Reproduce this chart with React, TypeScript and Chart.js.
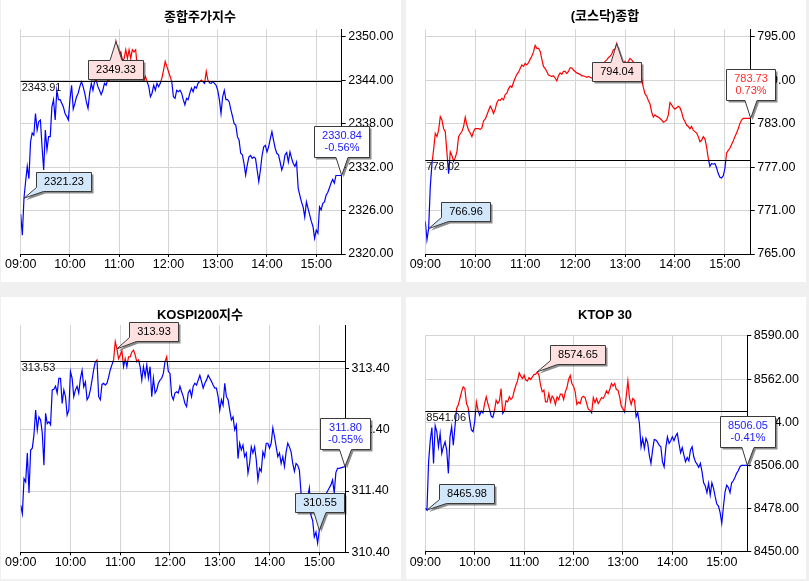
import React, { useEffect, useRef } from "react";
import { Chart, registerables } from "chart.js";

Chart.register(...registerables);

const FONT = "'Liberation Sans', 'Noto Sans CJK KR', Arial, sans-serif";
Chart.defaults.font.family = FONT;

// minutes after 09:00
const TIMES = [
  0, 2, 4, 6, 8, 10, 12, 14, 16, 18,
  20, 22, 24, 26, 28, 30, 32, 34, 36, 38,
  40, 42, 44, 46, 48, 50, 52, 54, 56, 58,
  60, 62, 64, 66, 68, 70, 72, 74, 76, 78,
  80, 82, 84, 86, 88, 90, 92, 94, 96, 98,
  100, 102, 104, 106, 108, 110, 112, 114, 116, 118,
  120, 122, 124, 126, 128, 130, 132, 134, 136, 138,
  140, 142, 144, 146, 148, 150, 152, 154, 156, 158,
  160, 162, 164, 166, 168, 170, 172, 174, 176, 178,
  180, 182, 184, 186, 188, 190, 192, 194, 196, 198,
  200, 202, 204, 206, 208, 210, 212, 214, 216, 218,
  220, 222, 224, 226, 228, 230, 232, 234, 236, 238,
  240, 242, 244, 246, 248, 250, 252, 254, 256, 258,
  260, 262, 264, 266, 268, 270, 272, 274, 276, 278,
  280, 282, 284, 286, 288, 290, 292, 294, 296, 298,
  300, 302, 304, 306, 308, 310, 312, 314, 316, 318,
  320, 322, 324, 326, 328, 330, 332, 334, 336, 338,
  340, 342, 344, 346, 348, 350, 352, 354, 356, 358,
  360, 362, 364, 366, 368, 370, 372, 374, 376, 378,
  380, 382, 384, 391,
];

const KOSPI = [
  2325.5, 2322.6, 2327.7, 2330.0, 2332.1, 2330.4, 2335.5, 2336.7, 2336.4, 2339.4,
  2337.1, 2338.3, 2338.5, 2334.8, 2331.6, 2337.1, 2334.4, 2336.2, 2336.2, 2340.3,
  2341.3, 2338.5, 2342.6, 2341.3, 2341.3, 2340.8, 2340.3, 2339.4, 2339.0, 2338.5,
  2341.3, 2343.3, 2340.0, 2340.8, 2341.7, 2342.2, 2343.1, 2343.8, 2343.1, 2342.2,
  2341.0, 2340.1, 2342.2, 2343.56, 2342.6, 2343.8, 2344.0, 2343.1, 2342.6, 2342.0,
  2342.6, 2343.56, 2343.3, 2344.0, 2344.0, 2345.2, 2346.1, 2347.5, 2349.33, 2348.2,
  2347.5, 2347.9, 2346.6, 2347.0, 2348.2, 2347.0, 2348.2, 2347.0, 2348.2, 2347.9,
  2348.2, 2345.9, 2344.7, 2344.3, 2344.5, 2344.0, 2344.5, 2343.8, 2343.1, 2341.7,
  2342.2, 2343.3, 2342.6, 2343.56, 2343.1, 2343.56, 2344.3, 2345.4, 2346.6, 2345.9,
  2345.2, 2344.5, 2343.8, 2341.7, 2341.5, 2342.6, 2342.4, 2342.6, 2342.2, 2341.3,
  2340.6, 2341.5, 2341.3, 2342.2, 2342.9, 2342.4, 2343.1, 2342.9, 2343.56, 2343.8,
  2344.0, 2343.8, 2343.56, 2345.2, 2344.0, 2343.6, 2343.56, 2343.8, 2343.56, 2343.3,
  2342.6, 2341.3, 2339.4, 2341.7, 2342.6, 2341.3, 2341.3, 2341.0, 2339.9, 2339.0,
  2338.0, 2337.8, 2336.2, 2335.7, 2333.9, 2333.7, 2332.5, 2330.9, 2332.3, 2333.4,
  2333.6, 2333.2, 2333.4, 2333.2, 2331.6, 2330.0, 2331.6, 2333.6, 2334.8, 2335.0,
  2334.1, 2334.8, 2335.9, 2336.9, 2335.7, 2334.6, 2333.9, 2333.7, 2332.7, 2331.6,
  2332.3, 2333.7, 2334.0, 2332.7, 2334.1, 2333.2, 2332.5, 2332.1, 2332.7, 2329.1,
  2328.1, 2327.2, 2326.5, 2325.1, 2327.2, 2326.3, 2325.4, 2324.5, 2323.8, 2322.16,
  2323.3, 2322.85, 2326.5, 2326.1, 2327.0, 2327.2, 2328.1, 2328.5, 2329.1, 2329.8,
  2330.3, 2329.8, 2330.84, 2330.84,
];

const KOSDAQ = [
  769.5, 766.96, 768.5, 774.3, 777.5, 779.4, 781.66, 781.2, 782.1, 783.96,
  783.5, 782.3, 781.9, 779.0, 776.1, 779.1, 778.6, 777.8, 778.3, 779.1,
  781.2, 781.6, 781.9, 782.6, 783.9, 782.8, 782.1, 781.7, 781.2, 781.9,
  782.3, 782.3, 782.3, 782.2, 782.4, 783.4, 783.6, 784.2, 784.8, 785.4,
  785.0, 784.4, 785.0, 785.9, 786.3, 786.2, 786.5, 786.3, 787.0, 787.2,
  787.8, 788.2, 788.0, 788.7, 789.3, 789.8, 790.1, 790.6, 791.1, 790.9,
  791.3, 791.1, 791.4, 791.9, 792.3, 792.9, 793.8, 793.4, 793.4, 793.0,
  791.9, 790.9, 790.6, 790.2, 789.7, 789.6, 789.5, 789.6, 789.3, 788.9,
  789.6, 790.0, 789.8, 790.2, 790.2, 789.9, 790.2, 790.7, 790.7, 790.4,
  790.2, 790.0, 789.9, 789.8, 789.6, 789.6, 789.5, 789.4, 789.5, 789.4,
  789.3, 789.4, 789.2, 789.6, 790.0, 790.4, 790.9, 791.3, 791.6, 791.8,
  792.1, 792.3, 792.6, 793.2, 793.3, 794.04, 793.0, 791.9, 791.1, 791.3,
  791.6, 791.3, 791.6, 792.0, 791.8, 791.5, 791.3, 791.1, 790.6, 790.0,
  789.1, 788.0, 787.1, 786.8, 786.2, 785.7, 784.6, 783.9, 784.2, 784.0,
  783.9, 783.7, 783.5, 783.2, 783.3, 783.5, 784.2, 785.9, 785.6, 785.2,
  785.0, 785.2, 785.4, 785.2, 784.6, 783.7, 783.3, 782.8, 782.6, 782.3,
  782.6, 782.1, 781.9, 781.7, 781.2, 780.5, 780.7, 781.2, 780.9, 779.8,
  778.2, 777.1, 777.5, 777.4, 777.5, 776.9, 776.1, 775.6, 775.5, 775.8,
  776.8, 778.9, 779.3, 779.6, 780.1, 780.6, 781.2, 781.7, 782.3, 783.0,
  783.5, 783.73, 783.73, 783.73,
];

const KOSPI200 = [
  311.17, 311.03, 311.6, 311.55, 312.02, 311.37, 312.07, 312.1, 312.32, 312.72,
  312.4, 312.61, 312.56, 312.35, 311.82, 312.67, 312.5, 312.53, 312.48, 313.05,
  313.06, 313.11, 313.0, 313.24, 313.24, 312.83, 313.05, 312.94, 312.64, 312.72,
  313.35, 313.24, 312.94, 313.05, 313.11, 313.0, 313.24, 313.37, 313.1, 313.18,
  312.89, 312.94, 313.05, 313.21, 313.38, 313.51, 313.54, 312.94, 312.89, 313.14,
  313.16, 313.13, 313.16, 313.26, 313.38, 313.46, 313.54, 313.84, 313.72, 313.56,
  313.62, 313.69, 313.43, 313.56, 313.43, 313.59, 313.59, 313.67, 313.7, 313.62,
  313.51, 313.54, 313.43, 313.21, 313.43, 313.27, 313.46, 313.24, 313.43, 312.94,
  313.24, 313.0, 313.05, 313.16, 313.21, 313.24, 313.32, 313.51, 313.59, 313.35,
  313.32, 312.96, 312.89, 313.0, 313.02, 313.0, 313.11, 313.02, 312.94, 312.83,
  312.78, 313.0, 313.05, 312.94, 313.11, 313.16, 313.13, 313.21, 313.29, 313.19,
  313.08, 313.16, 313.21, 313.29, 313.24, 313.19, 313.13, 313.08, 313.08, 312.94,
  312.72, 312.89, 312.8, 313.16, 312.94, 312.89, 312.72, 312.56, 312.61, 312.4,
  312.48, 311.93, 312.18, 312.07, 312.15, 311.96, 312.02, 311.69, 311.85, 312.12,
  312.02, 312.12, 311.91, 311.58, 311.77, 311.72, 312.04, 311.96, 312.18, 312.18,
  312.1, 312.18, 312.43, 312.29, 312.12, 311.96, 312.02, 311.85, 311.96, 311.8,
  312.04, 312.18, 312.12, 312.04, 311.85, 311.72, 311.85, 311.82, 311.74, 311.37,
  311.35, 311.3, 311.35, 311.3, 311.45, 311.0, 310.92, 310.65, 310.73, 310.55,
  310.76, 310.85, 311.0, 311.15, 311.35, 311.4, 311.45, 311.5, 311.58, 311.37,
  311.7, 311.77, 311.77, 311.8,
];

const KTOP30 = [
  8478.0, 8477.0, 8508.3, 8522.1, 8530.6, 8507.3, 8531.7, 8527.7, 8518.1, 8526.7,
  8513.7, 8518.1, 8521.3, 8515.9, 8500.8, 8524.5, 8531.0, 8519.1, 8531.0, 8542.9,
  8545.1, 8549.4, 8553.7, 8556.9, 8555.9, 8546.1, 8543.6, 8535.3, 8528.9, 8527.8,
  8534.3, 8547.2, 8541.8, 8538.6, 8541.4, 8540.1, 8546.1, 8550.5, 8546.1, 8542.3,
  8537.9, 8537.1, 8541.4, 8548.3, 8546.1, 8547.9, 8555.9, 8539.7, 8541.4, 8547.9,
  8547.2, 8550.5, 8548.7, 8550.0, 8554.4, 8558.0, 8560.8, 8566.0, 8563.9, 8562.3,
  8564.5, 8561.3, 8560.8, 8563.0, 8561.7, 8563.4, 8564.9, 8565.2, 8566.7, 8564.5,
  8558.0, 8553.7, 8554.8, 8547.2, 8547.2, 8552.6, 8547.2, 8550.9, 8549.4, 8545.5,
  8550.5, 8548.7, 8552.2, 8552.2, 8548.7, 8553.7, 8556.5, 8561.7, 8564.3, 8559.1,
  8557.4, 8553.7, 8545.5, 8547.0, 8546.1, 8550.0, 8550.9, 8550.0, 8546.1, 8542.3,
  8541.8, 8540.1, 8550.0, 8546.6, 8549.4, 8546.1, 8547.9, 8550.0, 8549.4, 8551.5,
  8554.4, 8552.6, 8555.2, 8559.1, 8557.4, 8559.1, 8555.2, 8554.8, 8550.5, 8544.4,
  8542.7, 8540.7, 8550.9, 8560.8, 8549.4, 8545.5, 8549.4, 8548.3, 8537.5, 8540.1,
  8533.2, 8518.1, 8523.5, 8517.0, 8523.5, 8520.7, 8512.7, 8507.3, 8515.9, 8522.8,
  8522.4, 8521.1, 8519.1, 8518.1, 8508.3, 8505.1, 8517.0, 8524.5, 8520.2, 8522.0,
  8524.5, 8522.0, 8525.0, 8526.7, 8520.2, 8514.2, 8517.6, 8512.7, 8508.3, 8511.1,
  8509.0, 8515.9, 8518.1, 8511.6, 8508.3, 8506.8, 8504.7, 8507.3, 8501.9, 8494.7,
  8492.6, 8488.3, 8494.3, 8486.7, 8494.7, 8491.1, 8485.7, 8480.9, 8479.6, 8475.3,
  8468.4, 8479.2, 8488.9, 8493.2, 8491.7, 8488.3, 8494.7, 8496.0, 8498.2, 8500.8,
  8502.5, 8505.1, 8506.05, 8506.05,
];

// previous close reference lines
const KOSPI_REF = 2343.91;
const KOSDAQ_REF = 778.02;
const KOSPI200_REF = 313.53;
const KTOP30_REF = 8541.06;

// axis ticks
const X_TICKS = [0, 60, 120, 180, 240, 300, 360];
const KOSPI_Y_TICKS = [2320, 2326, 2332, 2338, 2344, 2350];
const KOSDAQ_Y_TICKS = [765, 771, 777, 783, 789, 795];
const KOSPI200_Y_TICKS = [310.4, 311.4, 312.4, 313.4];
const KTOP30_Y_TICKS = [8450, 8478, 8506, 8534, 8562, 8590];

// callout labels: the point they mark (time, value) and their text
const KOSPI_HIGH = { time: 116, value: 2349.33, text: ["2349.33"] };
const KOSPI_LOW = { time: 4, value: 2327.7, text: ["2321.23"] };
const KOSPI_LAST = { time: 391, value: 2330.84, text: ["2330.84", "-0.56%"] };
const KOSDAQ_HIGH = { time: 230, value: 794.04, text: ["794.04"] };
const KOSDAQ_LOW = { time: 4, value: 768.5, text: ["766.96"] };
const KOSDAQ_LAST = { time: 391, value: 783.73, text: ["783.73", "0.73%"] };
const KOSPI200_HIGH = { time: 116, value: 313.72, text: ["313.93"] };
const KOSPI200_LOW = { time: 360, value: 310.76, text: ["310.55"] };
const KOSPI200_LAST = { time: 391, value: 311.8, text: ["311.80", "-0.55%"] };
const KTOP30_HIGH = { time: 136, value: 8566.7, text: ["8574.65"] };
const KTOP30_LOW = { time: 2, value: 8477.0, text: ["8465.98"] };
const KTOP30_LAST = { time: 391, value: 8506.05, text: ["8506.05", "-0.41%"] };

const RED = "#ff0000";
const BLUE = "#0000ff";
const GRID = "#d4d4d4";

type Mark = { time: number; value: number; text: string[] };
type Place = "above" | "below" | "upright";
type PanelCfg = {
  title: string;
  values: number[];
  ref: number;
  yTicks: number[];
  yMin: number;
  yMax: number;
  marks: { mark: Mark; place: Place; fill: string; color: string }[];
  left: number;
  top: number;
  plotLeft: number;
  yAxisW: number;
  plotTop: number;
  xAxisH: number;
  titleY: number;
};

const HIGH_FILL = "#ffe0e0";
const LOW_FILL = "#d3e7fb";

const PANELS: PanelCfg[] = [
  {
    title: "종합주가지수", values: KOSPI, ref: KOSPI_REF, yTicks: KOSPI_Y_TICKS, yMin: 2320, yMax: 2351.02,
    marks: [
      { mark: KOSPI_HIGH, place: "below", fill: HIGH_FILL, color: "#000" },
      { mark: KOSPI_LOW, place: "upright", fill: LOW_FILL, color: "#000" },
      { mark: KOSPI_LAST, place: "above", fill: "#fff", color: "#2020ff" },
    ],
    left: 1, top: 0, plotLeft: 19.7, yAxisW: 59.3, plotTop: 29.3, xAxisH: 28, titleY: 17,
  },
  {
    title: "(코스닥)종합", values: KOSDAQ, ref: KOSDAQ_REF, yTicks: KOSDAQ_Y_TICKS, yMin: 765, yMax: 796.02,
    marks: [
      { mark: KOSDAQ_HIGH, place: "below", fill: HIGH_FILL, color: "#000" },
      { mark: KOSDAQ_LOW, place: "upright", fill: LOW_FILL, color: "#000" },
      { mark: KOSDAQ_LAST, place: "above", fill: "#fff", color: "#ff2a2a" },
    ],
    left: 406, top: 0, plotLeft: 19.3, yAxisW: 55.3, plotTop: 29.3, xAxisH: 28, titleY: 16.7,
  },
  {
    title: "KOSPI200지수", values: KOSPI200, ref: KOSPI200_REF, yTicks: KOSPI200_Y_TICKS, yMin: 310.4, yMax: 314.11,
    marks: [
      { mark: KOSPI200_HIGH, place: "upright", fill: HIGH_FILL, color: "#000" },
      { mark: KOSPI200_LOW, place: "above", fill: LOW_FILL, color: "#000" },
      { mark: KOSPI200_LAST, place: "above", fill: "#fff", color: "#2020ff" },
    ],
    left: 1, top: 297, plotLeft: 19.7, yAxisW: 56, plotTop: 28, xAxisH: 26.7, titleY: 18,
  },
  {
    title: "KTOP 30", values: KTOP30, ref: KTOP30_REF, yTicks: KTOP30_Y_TICKS, yMin: 8450, yMax: 8590,
    marks: [
      { mark: KTOP30_HIGH, place: "upright", fill: HIGH_FILL, color: "#000" },
      { mark: KTOP30_LOW, place: "upright", fill: LOW_FILL, color: "#000" },
      { mark: KTOP30_LAST, place: "above", fill: "#fff", color: "#2020ff" },
    ],
    left: 406, top: 297, plotLeft: 19.3, yAxisW: 58.7, plotTop: 38.9, xAxisH: 27.3, titleY: 18.7,
  },
];

function fmtTime(v: number) {
  const m = Math.round(v);
  const h = 9 + Math.floor(m / 60);
  const mm = m % 60;
  return `${String(h).padStart(2, "0")}:${String(mm).padStart(2, "0")}`;
}

function drawCallout(
  ctx: CanvasRenderingContext2D, x: number, y: number, lines: string[], place: Place, fill: string, color: string,
) {
  ctx.save();
  ctx.font = `11px ${FONT}`;
  let tw = 0;
  for (const l of lines) tw = Math.max(tw, ctx.measureText(l).width);
  const w = Math.round(tw + 15);
  const h = lines.length > 1 ? 31 : 19;
  let left: number;
  let top: number;
  if (place === "above") {
    left = Math.round(x - w / 2);
    top = Math.round(y - 18 - h);
  } else if (place === "below") {
    left = Math.round(x - w / 2);
    top = Math.round(y + 18);
  } else {
    left = Math.round(x + 12.5);
    top = Math.round(y - 7.5 - h);
  }
  const L = left + 0.5, T = top + 0.5, R = left + w + 0.5, B = top + h + 0.5;
  const cx = (L + R) / 2;
  const path = new Path2D();
  if (place === "above") {
    path.moveTo(L, T); path.lineTo(R, T); path.lineTo(R, B); path.lineTo(cx + 6, B);
    path.lineTo(x, y); path.lineTo(cx - 6, B); path.lineTo(L, B);
  } else if (place === "below") {
    path.moveTo(L, B); path.lineTo(L, T); path.lineTo(cx - 6, T); path.lineTo(x, y);
    path.lineTo(cx + 6, T); path.lineTo(R, T); path.lineTo(R, B);
  } else {
    path.moveTo(L, T); path.lineTo(R, T); path.lineTo(R, B); path.lineTo(L + 7, B);
    path.lineTo(x, y); path.lineTo(L, B - 4);
  }
  path.closePath();
  ctx.shadowColor = "rgba(0,0,0,0.45)";
  ctx.shadowOffsetX = 2;
  ctx.shadowOffsetY = 2;
  ctx.shadowBlur = 0;
  ctx.fillStyle = fill;
  ctx.fill(path);
  ctx.shadowColor = "transparent";
  ctx.shadowOffsetX = 0;
  ctx.shadowOffsetY = 0;
  ctx.lineWidth = 1;
  ctx.strokeStyle = "#3a3a3a";
  ctx.stroke(path);
  ctx.fillStyle = color;
  ctx.textAlign = "center";
  ctx.textBaseline = "middle";
  lines.forEach((l, i) => ctx.fillText(l, cx, T + 9.5 + i * 12));
  ctx.restore();
}

function Panel({ p }: { p: PanelCfg }) {
  const canvasRef = useRef<HTMLCanvasElement>(null);
  useEffect(() => {
    const canvas = canvasRef.current;
    if (!canvas) return;
    const deco = {
      id: "deco",
      afterDatasetsDraw(chart: any) {
        const { ctx, chartArea } = chart;
        const yRef = Math.round(chart.scales.y.getPixelForValue(p.ref)) + 0.5;
        ctx.save();
        ctx.strokeStyle = "#000";
        ctx.lineWidth = 1;
        ctx.beginPath();
        ctx.moveTo(chartArea.left, yRef);
        ctx.lineTo(chartArea.right, yRef);
        ctx.stroke();
        ctx.font = `11px ${FONT}`;
        ctx.fillStyle = "#111";
        ctx.textAlign = "left";
        ctx.textBaseline = "top";
        ctx.fillText(p.ref.toFixed(2), chartArea.left + 1, yRef + 1);
        ctx.restore();
      },
      afterDraw(chart: any) {
        const { ctx } = chart;
        ctx.save();
        ctx.font = `bold 13px ${FONT}`;
        ctx.fillStyle = "#000";
        ctx.textAlign = "center";
        ctx.textBaseline = "middle";
        ctx.fillText(p.title, chart.width / 2 - 1, p.titleY);
        ctx.restore();
        for (const m of p.marks) {
          const x = chart.scales.x.getPixelForValue(m.mark.time);
          const y = chart.scales.y.getPixelForValue(m.mark.value);
          drawCallout(ctx, x, y, m.mark.text, m.place, m.fill, m.color);
        }
      },
    };
    const chart = new Chart(canvas, {
      type: "line",
      data: {
        datasets: [
          {
            data: TIMES.map((t, i) => ({ x: t, y: p.values[i] })),
            borderWidth: 1.2,
            pointRadius: 0,
            tension: 0,
            fill: false,
            borderColor: (c: any) => {
              const ch = c.chart;
              const area = ch.chartArea;
              if (!area || !ch.scales || !ch.scales.y) return BLUE;
              const yRef = ch.scales.y.getPixelForValue(p.ref);
              let f = (yRef - area.top) / (area.bottom - area.top);
              f = Math.min(1, Math.max(0, f));
              const g = ch.ctx.createLinearGradient(0, area.top, 0, area.bottom);
              g.addColorStop(0, RED);
              g.addColorStop(f, RED);
              g.addColorStop(f, BLUE);
              g.addColorStop(1, BLUE);
              return g;
            },
          } as any,
        ],
      },
      options: {
        responsive: false,
        animation: false,
        events: [],
        layout: { padding: { left: p.plotLeft, right: 0, top: p.plotTop, bottom: 0 } },
        plugins: {
          legend: { display: false },
          tooltip: { enabled: false },
          title: { display: false },
        },
        scales: {
          x: {
            type: "linear",
            min: 0,
            max: 391,
            afterBuildTicks: (s: any) => {
              s.ticks = X_TICKS.map((v) => ({ value: v }));
            },
            afterFit: (s: any) => {
              s.height = p.xAxisH;
            },
            ticks: {
              autoSkip: false,
              maxRotation: 0,
              padding: 0,
              color: "#000",
              font: { family: FONT, size: 12.5 },
              callback: (v: any) => fmtTime(Number(v)),
            },
            grid: { color: GRID, tickColor: "#000", tickLength: 3, lineWidth: 1 },
            border: { color: "#000", width: 1 },
          },
          y: {
            type: "linear",
            position: "right",
            min: p.yMin,
            max: p.yMax,
            afterBuildTicks: (s: any) => {
              s.ticks = p.yTicks.map((v) => ({ value: v }));
            },
            afterFit: (s: any) => {
              s.width = p.yAxisW;
            },
            ticks: {
              padding: 2.5,
              color: "#000",
              font: { family: FONT, size: 12.5 },
              callback: (v: any) => Number(v).toFixed(2),
            },
            grid: { color: GRID, tickColor: "#000", tickLength: 4, lineWidth: 1 },
            border: { color: "#000", width: 1 },
          },
        },
      } as any,
      plugins: [deco as any],
    });
    return () => chart.destroy();
  }, [p]);
  return (
    <div style={{ position: "absolute", left: p.left, top: p.top, width: 400, height: 282, background: "#fff" }}>
      <canvas ref={canvasRef} width={400} height={282} style={{ display: "block", width: 400, height: 282 }} />
    </div>
  );
}

export default function App() {
  return (
    <div style={{ position: "fixed", left: 0, top: 0, width: 809, height: 581, background: "#f0f0f0", overflow: "hidden" }}>
      {PANELS.map((p, i) => (
        <Panel key={i} p={p} />
      ))}
    </div>
  );
}
